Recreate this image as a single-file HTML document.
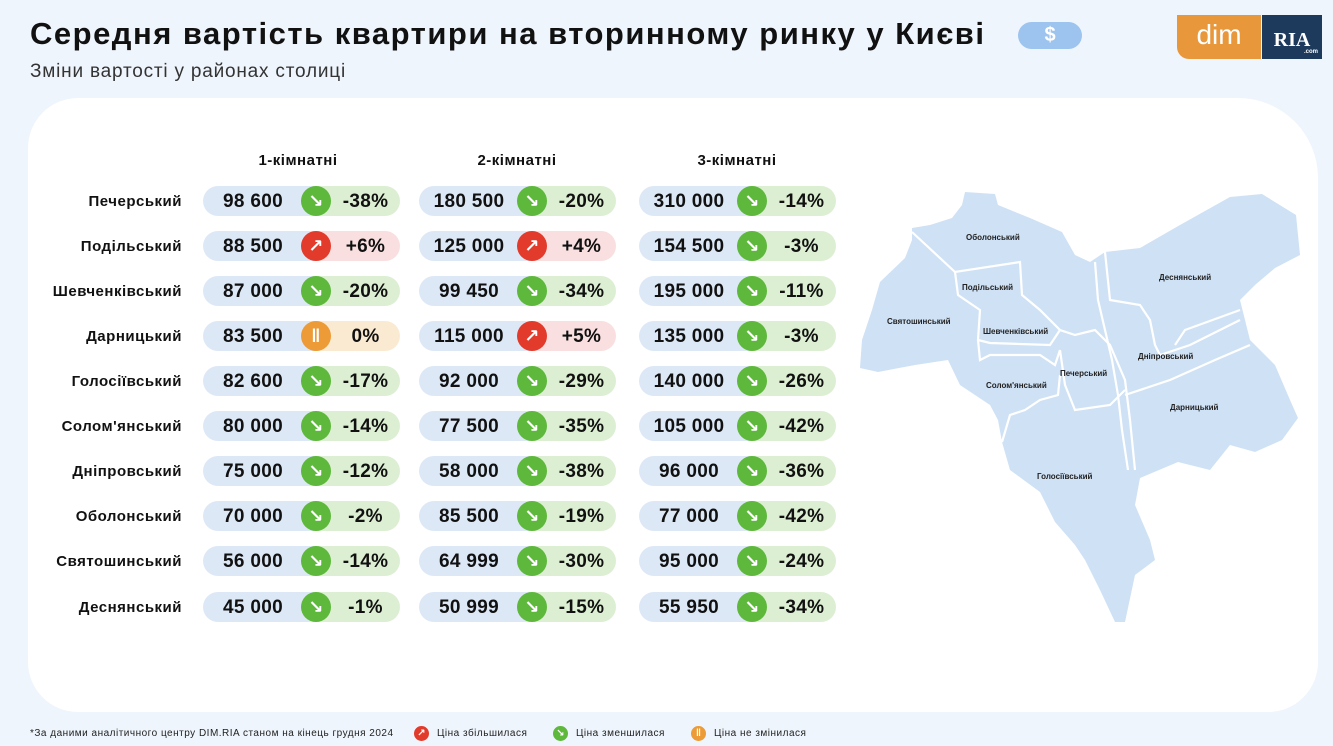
<!DOCTYPE html>
<html><head><meta charset="utf-8">
<style>
*{margin:0;padding:0;box-sizing:border-box}
body{width:1333px;height:746px;background:#eef5fc;font-family:"Liberation Sans","DejaVu Sans",sans-serif;position:relative;overflow:hidden;color:#111}
.abs{position:absolute}
h1{position:absolute;left:30px;top:16px;font-size:31px;font-weight:700;letter-spacing:1.5px;color:#111;white-space:nowrap}
.sub{position:absolute;left:30px;top:61px;font-size:19px;color:#333;letter-spacing:0.8px}
.card{position:absolute;left:28px;top:98px;width:1290px;height:614px;background:#fff;border-radius:50px 80px 50px 50px}
.hdr{position:absolute;top:152px;font-size:15px;font-weight:700;width:200px;text-align:center;letter-spacing:0.5px}
.lab{position:absolute;left:0;width:182px;text-align:right;font-size:15px;font-weight:700;height:30px;line-height:32px;letter-spacing:0.5px}
.p{position:absolute;width:197px;height:30px;border-radius:15px;font-size:19px;font-weight:700;line-height:32px;letter-spacing:0.3px}
.g{background:linear-gradient(to right,#dde8f7 0 113px,#dcefd3 113px)}
.r{background:linear-gradient(to right,#dde8f7 0 113px,#f9dfdf 113px)}
.o{background:linear-gradient(to right,#dde8f7 0 113px,#fbead2 113px)}
.p .n{position:absolute;left:0;width:100px;text-align:center}
.p .c{position:absolute;left:98px;top:0;width:30px;height:30px;border-radius:50%;color:#fff;text-align:center;font-size:18px;line-height:30px}
.g .c{background:#5db83b}.r .c{background:#e23b2c}.o .c{background:#ec9b37}
.p .v{position:absolute;left:128px;width:69px;text-align:center}
.ml{font-size:8px;font-weight:700;fill:#222;font-family:"Liberation Sans",sans-serif}
.foot{position:absolute;top:728px;font-size:10px;color:#222;letter-spacing:0.5px}
.dot{position:absolute;top:726px;width:15px;height:15px;border-radius:50%;color:#fff;font-size:10px;text-align:center;line-height:15px;font-weight:700}
</style></head><body>
<h1>Середня вартість квартири на вторинному ринку у Києві</h1>
<div class="abs" style="left:1018px;top:22px;width:64px;height:27px;border-radius:14px;background:#9cc4ef;color:#fff;font-weight:700;font-size:20px;text-align:center;line-height:27px">$</div>
<div class="abs" style="left:1177px;top:15px;width:84px;height:44px;background:#e8973a;border-radius:0 0 0 12px;color:#fff;font-size:28px;text-align:center;line-height:40px">dim</div>
<div class="abs" style="left:1262px;top:15px;width:60px;height:44px;background:#1d3a5c;color:#fff;font-family:'Liberation Serif',serif;font-weight:700;font-size:20px;text-align:center;line-height:50px">RIA<span style="position:absolute;right:4px;bottom:-18px;font-size:6px;font-family:'Liberation Sans'">.com</span></div>
<div class="sub">Зміни вартості у районах столиці</div>
<div class="card"></div>

<div class="hdr" style="left:198px">1-кімнатні</div>
<div class="hdr" style="left:417px">2-кімнатні</div>
<div class="hdr" style="left:637px">3-кімнатні</div>

<div class="lab" style="top:186px">Печерський</div>
<div class="lab" style="top:231px">Подільський</div>
<div class="lab" style="top:276px">Шевченківський</div>
<div class="lab" style="top:321px">Дарницький</div>
<div class="lab" style="top:366px">Голосіївський</div>
<div class="lab" style="top:411px">Солом'янський</div>
<div class="lab" style="top:456px">Дніпровський</div>
<div class="lab" style="top:501px">Оболонський</div>
<div class="lab" style="top:546px">Святошинський</div>
<div class="lab" style="top:592px">Деснянський</div>

<!-- col1 -->
<div class="p g" style="left:203px;top:186px"><span class="n">98 600</span><span class="c">↘</span><span class="v">-38%</span></div>
<div class="p r" style="left:203px;top:231px"><span class="n">88 500</span><span class="c">↗</span><span class="v">+6%</span></div>
<div class="p g" style="left:203px;top:276px"><span class="n">87 000</span><span class="c">↘</span><span class="v">-20%</span></div>
<div class="p o" style="left:203px;top:321px"><span class="n">83 500</span><span class="c">ǁ</span><span class="v">0%</span></div>
<div class="p g" style="left:203px;top:366px"><span class="n">82 600</span><span class="c">↘</span><span class="v">-17%</span></div>
<div class="p g" style="left:203px;top:411px"><span class="n">80 000</span><span class="c">↘</span><span class="v">-14%</span></div>
<div class="p g" style="left:203px;top:456px"><span class="n">75 000</span><span class="c">↘</span><span class="v">-12%</span></div>
<div class="p g" style="left:203px;top:501px"><span class="n">70 000</span><span class="c">↘</span><span class="v">-2%</span></div>
<div class="p g" style="left:203px;top:546px"><span class="n">56 000</span><span class="c">↘</span><span class="v">-14%</span></div>
<div class="p g" style="left:203px;top:592px"><span class="n">45 000</span><span class="c">↘</span><span class="v">-1%</span></div>
<!-- col2 -->
<div class="p g" style="left:419px;top:186px"><span class="n">180 500</span><span class="c">↘</span><span class="v">-20%</span></div>
<div class="p r" style="left:419px;top:231px"><span class="n">125 000</span><span class="c">↗</span><span class="v">+4%</span></div>
<div class="p g" style="left:419px;top:276px"><span class="n">99 450</span><span class="c">↘</span><span class="v">-34%</span></div>
<div class="p r" style="left:419px;top:321px"><span class="n">115 000</span><span class="c">↗</span><span class="v">+5%</span></div>
<div class="p g" style="left:419px;top:366px"><span class="n">92 000</span><span class="c">↘</span><span class="v">-29%</span></div>
<div class="p g" style="left:419px;top:411px"><span class="n">77 500</span><span class="c">↘</span><span class="v">-35%</span></div>
<div class="p g" style="left:419px;top:456px"><span class="n">58 000</span><span class="c">↘</span><span class="v">-38%</span></div>
<div class="p g" style="left:419px;top:501px"><span class="n">85 500</span><span class="c">↘</span><span class="v">-19%</span></div>
<div class="p g" style="left:419px;top:546px"><span class="n">64 999</span><span class="c">↘</span><span class="v">-30%</span></div>
<div class="p g" style="left:419px;top:592px"><span class="n">50 999</span><span class="c">↘</span><span class="v">-15%</span></div>
<!-- col3 -->
<div class="p g" style="left:639px;top:186px"><span class="n">310 000</span><span class="c">↘</span><span class="v">-14%</span></div>
<div class="p g" style="left:639px;top:231px"><span class="n">154 500</span><span class="c">↘</span><span class="v">-3%</span></div>
<div class="p g" style="left:639px;top:276px"><span class="n">195 000</span><span class="c">↘</span><span class="v">-11%</span></div>
<div class="p g" style="left:639px;top:321px"><span class="n">135 000</span><span class="c">↘</span><span class="v">-3%</span></div>
<div class="p g" style="left:639px;top:366px"><span class="n">140 000</span><span class="c">↘</span><span class="v">-26%</span></div>
<div class="p g" style="left:639px;top:411px"><span class="n">105 000</span><span class="c">↘</span><span class="v">-42%</span></div>
<div class="p g" style="left:639px;top:456px"><span class="n">96 000</span><span class="c">↘</span><span class="v">-36%</span></div>
<div class="p g" style="left:639px;top:501px"><span class="n">77 000</span><span class="c">↘</span><span class="v">-42%</span></div>
<div class="p g" style="left:639px;top:546px"><span class="n">95 000</span><span class="c">↘</span><span class="v">-24%</span></div>
<div class="p g" style="left:639px;top:592px"><span class="n">55 950</span><span class="c">↘</span><span class="v">-34%</span></div>

<svg class="abs" style="left:0;top:0" width="1333" height="746">
<polygon fill="#cfe1f5" points="965,192 995,194 998,205 1030,218 1062,232 1075,255 1090,262 1105,252 1140,248 1180,225 1230,197 1262,194 1296,215 1300,255 1275,268 1255,285 1240,300 1250,340 1275,365 1290,400 1298,418 1282,440 1255,452 1230,445 1210,470 1178,462 1140,478 1135,505 1150,540 1155,560 1135,575 1125,622 1115,622 1100,590 1085,560 1075,545 1055,522 1040,492 1010,470 1002,442 998,420 990,405 960,385 948,360 915,365 878,372 860,368 862,340 872,310 880,282 905,258 912,240 912,228 930,225 952,218 962,205"/>
<g fill="none" stroke="#fff" stroke-width="2.2">
<polyline points="912,232 955,272 1020,262 1022,295 1040,310 1060,330 1075,335 1095,330 1110,345 1125,380 1130,420 1135,470"/>
<polyline points="955,272 958,295 980,310 978,340 990,343 1050,345 1060,330"/>
<polyline points="978,340 980,360 990,355 1040,355 1055,365 1060,350"/>
<polyline points="1060,350 1065,385 1075,410 1110,405 1125,390"/>
<polyline points="1002,442 1010,415 1025,410 1040,400 1058,395 1060,375"/>
<polyline points="1105,252 1110,300 1140,305 1150,320 1155,345 1160,355 1190,345 1240,320"/>
<polyline points="1175,345 1185,330 1240,310"/>
<polyline points="1125,395 1170,380 1215,360 1250,345"/>
<polyline points="1095,262 1098,300 1105,330 1112,360 1118,395 1122,430 1128,470"/>
</g>
<text class="ml" x="966" y="240">Оболонський</text>
<text class="ml" x="1159" y="280">Деснянський</text>
<text class="ml" x="962" y="290">Подільський</text>
<text class="ml" x="887" y="324">Святошинський</text>
<text class="ml" x="983" y="334">Шевченківський</text>
<text class="ml" x="1138" y="359">Дніпровський</text>
<text class="ml" x="1060" y="376">Печерський</text>
<text class="ml" x="986" y="388">Солом'янський</text>
<text class="ml" x="1170" y="410">Дарницький</text>
<text class="ml" x="1037" y="479">Голосіївський</text>
</svg>

<div class="foot" style="left:30px">*За даними аналітичного центру DIM.RIA станом на кінець грудня 2024</div>
<div class="dot" style="left:414px;background:#e23b2c">↗</div>
<div class="foot" style="left:437px">Ціна збільшилася</div>
<div class="dot" style="left:553px;background:#5db83b">↘</div>
<div class="foot" style="left:576px">Ціна зменшилася</div>
<div class="dot" style="left:691px;background:#ec9b37">ǁ</div>
<div class="foot" style="left:714px">Ціна не змінилася</div>
</body></html>
